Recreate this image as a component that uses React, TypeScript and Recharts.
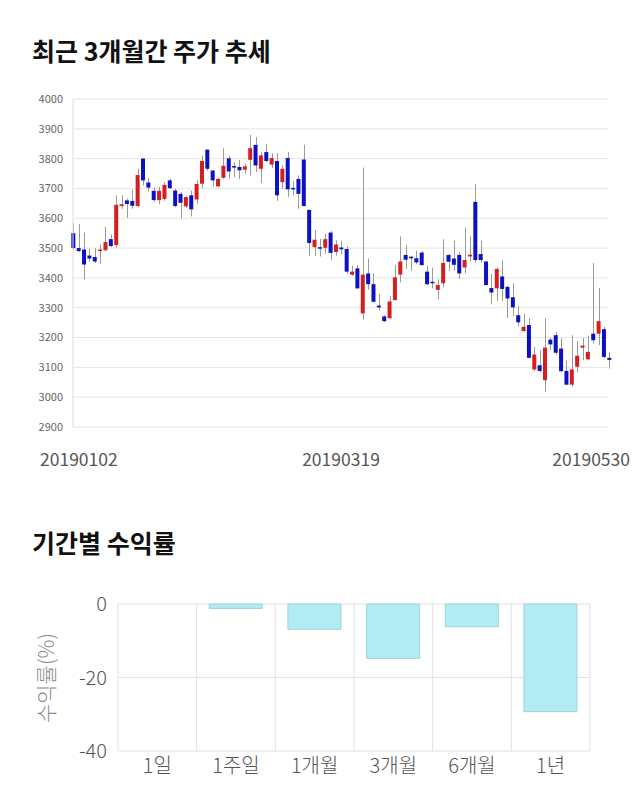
import React from "react";
import {
  ComposedChart,
  BarChart,
  Bar,
  XAxis,
  YAxis,
  CartesianGrid,
  Cell,
} from "recharts";

// daily candles, 2019-01-02 .. 2019-05-30 (101 trading days)
const opens = [
  3550, 3500, 3495, 3475, 3470, 3490, 3493, 3530, 3510, 3641, 3660, 3658, 3641, 3800, 3720, 3692, 3661,
  3665, 3727, 3693, 3682, 3640, 3677, 3663, 3716, 3830, 3760, 3707, 3736, 3801, 3775, 3772, 3763, 3796,
  3846, 3766, 3822, 3780, 3792, 3721, 3802, 3702, 3732, 3797, 3628, 3503, 3503, 3501, 3552, 3487, 3502,
  3497, 3411, 3432, 3281, 3415, 3379, 3307, 3271, 3265, 3326, 3411, 3477, 3471, 3466, 3485, 3421, 3387,
  3360, 3382, 3477, 3465, 3477, 3435, 3472, 3655, 3480, 3455, 3366, 3365, 3405, 3370, 3335, 3275, 3222,
  3242, 3093, 3107, 3057, 3193, 3208, 3163, 3088, 3042, 3102, 3166, 3127, 3213, 3213, 3228, 3132,
];
const highs = [
  3585, 3580, 3552, 3498, 3500, 3512, 3571, 3545, 3677, 3677, 3666, 3697, 3766, 3802, 3735, 3705, 3705,
  3720, 3732, 3699, 3688, 3675, 3693, 3727, 3810, 3832, 3762, 3736, 3835, 3810, 3788, 3796, 3783, 3880,
  3872, 3822, 3850, 3818, 3818, 3779, 3822, 3724, 3744, 3847, 3629, 3561, 3531, 3548, 3557, 3526, 3525,
  3506, 3441, 3443, 3770, 3465, 3415, 3346, 3275, 3340, 3443, 3539, 3510, 3474, 3491, 3491, 3441, 3435,
  3396, 3530, 3480, 3525, 3486, 3569, 3541, 3715, 3525, 3456, 3413, 3435, 3460, 3374, 3382, 3307, 3280,
  3266, 3169, 3158, 3264, 3199, 3219, 3197, 3124, 3208, 3188, 3199, 3206, 3450, 3366, 3236, 3152,
];
const lows = [
  3495, 3487, 3395, 3455, 3450, 3448, 3490, 3503, 3502, 3632, 3601, 3632, 3638, 3710, 3690, 3655, 3648,
  3658, 3698, 3637, 3600, 3635, 3606, 3649, 3700, 3760, 3707, 3704, 3732, 3732, 3738, 3732, 3749, 3744,
  3755, 3718, 3788, 3768, 3658, 3699, 3671, 3676, 3632, 3640, 3473, 3473, 3472, 3481, 3459, 3475, 3480,
  3413, 3407, 3363, 3260, 3360, 3318, 3290, 3251, 3262, 3323, 3385, 3430, 3424, 3446, 3441, 3376, 3365,
  3329, 3368, 3424, 3424, 3396, 3415, 3455, 3452, 3452, 3374, 3312, 3323, 3323, 3265, 3273, 3236, 3219,
  3130, 3087, 3083, 3018, 3158, 3143, 3085, 3040, 3035, 3083, 3124, 3124, 3180, 3174, 3130, 3096,
];
const closes = [
  3500, 3490, 3445, 3465, 3455, 3495, 3520, 3507, 3645, 3647, 3648, 3642, 3745, 3727, 3703, 3661, 3692,
  3712, 3701, 3641, 3652, 3671, 3630, 3715, 3792, 3766, 3727, 3732, 3776, 3757, 3770, 3761, 3774, 3835,
  3777, 3811, 3792, 3802, 3677, 3766, 3697, 3699, 3682, 3641, 3517, 3528, 3498, 3530, 3484, 3512, 3496,
  3421, 3421, 3365, 3411, 3379, 3320, 3301, 3255, 3321, 3402, 3455, 3461, 3466, 3452, 3443, 3379, 3382,
  3376, 3450, 3454, 3444, 3415, 3460, 3478, 3460, 3460, 3376, 3351, 3430, 3363, 3331, 3301, 3251, 3236,
  3132, 3143, 3088, 3166, 3177, 3149, 3087, 3042, 3093, 3139, 3173, 3152, 3191, 3255, 3135, 3125,
];
const dateTickIdx = [0, 50, 100];
const dateTickLabels = ["20190102", "20190319", "20190530"];
const priceTicks = [2900, 3000, 3100, 3200, 3300, 3400, 3500, 3600, 3700, 3800, 3900, 4000];

// period returns
const periods = ["1일", "1주일", "1개월", "3개월", "6개월", "1년"];
const returns = [0, -1.2, -6.9, -14.8, -6.2, -29.3];
const returnTicks = [0, -20, -40];

const candles = opens.map((o, i) => ({
  idx: i,
  open: o,
  high: highs[i],
  low: lows[i],
  close: closes[i],
  range: [lows[i], highs[i]],
}));

const returnData = periods.map((p, i) => ({ name: p, value: returns[i] }));

const FONT = "'Noto Sans CJK KR', 'Noto Sans', sans-serif";
const UP = "#d21f1f";
const DOWN = "#0c12c4";

function Candle(props: any) {
  const { x, y, width, height, payload } = props;
  const { open, close, high, low } = payload;
  const k = height / (high - low);
  const yOf = (v: number) => y + (high - v) * k;
  const top = yOf(Math.max(open, close));
  const bot = yOf(Math.min(open, close));
  const cx = Math.round(x + width / 2) + 0.5;
  return (
    <g>
      <line x1={cx} x2={cx} y1={y} y2={y + height} stroke="#9a9a9a" strokeWidth={1} />
      <rect
        x={x}
        y={top}
        width={width}
        height={Math.max(bot - top, 1.5)}
        fill={close >= open ? UP : DOWN}
      />
    </g>
  );
}

function DateTick(props: any) {
  const { x, y, payload } = props;
  const i = dateTickIdx.indexOf(payload.value);
  const last = i === dateTickIdx.length - 1;
  const anchor = i === 0 ? "start" : last ? "end" : "middle";
  const tx = i === 0 ? x - 33 : last ? x + 21 : x;
  return (
    <text x={tx} y={y + 39} textAnchor={anchor} fontSize={17.5} fill="#555" fontFamily={FONT}>
      {dateTickLabels[i]}
    </text>
  );
}

const titleStyle: React.CSSProperties = {
  position: "absolute",
  left: 32,
  fontSize: 25,
  fontWeight: 700,
  color: "#111",
  fontFamily: FONT,
  lineHeight: "30px",
};

export default function App() {
  return (
    <div
      style={{
        position: "absolute",
        left: 0,
        top: 0,
        width: 640,
        height: 810,
        background: "#fff",
        fontFamily: FONT,
      }}
    >
      <div style={{ ...titleStyle, top: 35 }}>최근 3개월간 주가 추세</div>

      <div style={{ position: "absolute", left: 0, top: 0 }}>
        <ComposedChart
          width={640}
          height={480}
          data={candles}
          margin={{ top: 99, right: 31, left: 0, bottom: 13 }}
        >
          <CartesianGrid vertical={false} stroke="#e6e6e6" />
          <XAxis
            dataKey="idx"
            type="number"
            domain={[0, 100]}
            ticks={dateTickIdx}
            interval={0}
            axisLine={false}
            tickLine={false}
            tickSize={0}
            tickMargin={0}
            height={40}
            tick={<DateTick />}
          />
          <YAxis
            domain={[2900, 4000]}
            ticks={priceTicks}
            interval={0}
            width={73}
            tickLine={false}
            tickSize={0}
            tickMargin={10}
            axisLine={{ stroke: "#dddddd" }}
            tick={{ fontSize: 11, fill: "#666", fontFamily: FONT }}
          />
          <Bar dataKey="range" barSize={4} shape={<Candle />} isAnimationActive={false} />
        </ComposedChart>
      </div>

      <div style={{ ...titleStyle, top: 527 }}>기간별 수익률</div>

      <div
        style={{
          position: "absolute",
          left: 45,
          top: 678,
          transform: "translate(-50%, -50%) rotate(-90deg)",
          fontSize: 21,
          fontWeight: 300,
          color: "#888",
          whiteSpace: "nowrap",
          fontFamily: FONT,
        }}
      >
        수익률(%)
      </div>

      <div style={{ position: "absolute", left: 0, top: 580 }}>
        <BarChart
          width={640}
          height={220}
          data={returnData}
          margin={{ top: 24, right: 50, left: 0, bottom: 5 }}
          barCategoryGap="16%"
        >
          <CartesianGrid
            stroke="#e2e2e2"
            verticalCoordinatesGenerator={({ offset }: any) =>
              periods.map((_, i) => offset.left + (i * offset.width) / periods.length).concat(
                offset.left + offset.width
              )
            }
          />
          <XAxis
            dataKey="name"
            axisLine={false}
            tickLine={false}
            tickSize={0}
            tickMargin={8}
            height={44}
            tick={{ fontSize: 20, fill: "#555", fontFamily: FONT, fontWeight: 300 }}
          />
          <YAxis
            domain={[-40, 0]}
            ticks={returnTicks}
            interval={0}
            width={118}
            axisLine={false}
            tickLine={false}
            tickSize={0}
            tickMargin={11}
            tick={{ fontSize: 20, fill: "#555", fontFamily: FONT, fontWeight: 300 }}
          />
          <Bar dataKey="value" fill="#b3ebf2" stroke="#9fd3dc" isAnimationActive={false}>
            {returnData.map((d) => (
              <Cell key={d.name} />
            ))}
          </Bar>
        </BarChart>
      </div>
    </div>
  );
}
